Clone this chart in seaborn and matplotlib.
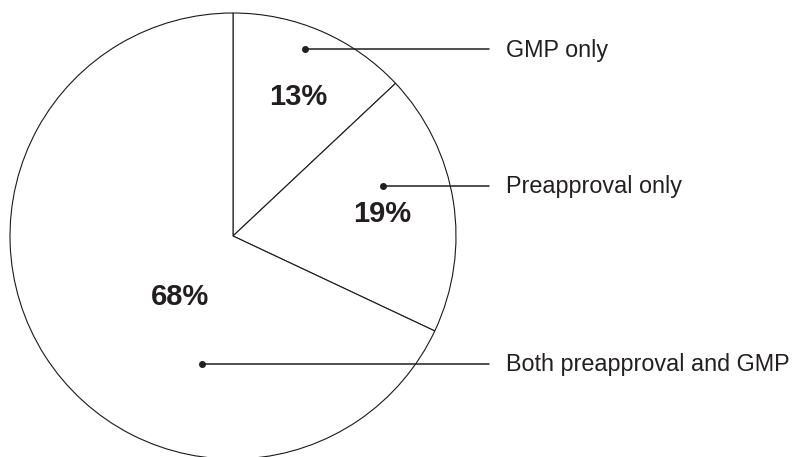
import matplotlib
matplotlib.use("Agg")
import matplotlib.pyplot as plt
import seaborn as sns

sns.set_style("white")
plt.rcParams['font.family'] = ['Liberation Sans', 'DejaVu Sans']

# data
categories = ['GMP only', 'Preapproval only', 'Both preapproval and GMP']
shares = [13, 19, 68]

# where the percent labels, dots and legend texts sit (pixel coords, y from top)
pct_pos = [(298, 97), (382, 214), (180, 297)]
dot_pos = [(305, 49), (383, 186), (202, 364)]
line_end_x = 489
text_x = 506

W, H = 797, 457
fig = plt.figure(figsize=(W / 100, H / 100), dpi=100)
ax = fig.add_axes([0, 0, 1, 1])
ax.set_xlim(0, W)
ax.set_ylim(0, H)

cx, cy, r = 233, H - 236, 223
ax.pie(shares, startangle=90, counterclock=False, radius=r, center=(cx, cy),
       colors=['white'] * len(shares),
       wedgeprops={'edgecolor': '#1a1a1a', 'linewidth': 0.8})
ax.set_xlim(0, W)
ax.set_ylim(0, H)
ax.set_aspect('equal')
ax.axis('off')

for (px, py), v in zip(pct_pos, shares):
    ax.text(px, H - py, f"{v}%", ha='center', va='center',
            fontsize=21, fontweight='bold', color='#231f20')

for (dx, dy), lab in zip(dot_pos, categories):
    ax.plot([dx, line_end_x], [H - dy, H - dy], color='#231f20', lw=1.1)
    ax.plot(dx, H - dy, 'o', color='#231f20', ms=4)
    ax.text(text_x, H - dy - 1, lab, ha='left', va='center',
            fontsize=16.8, color='#231f20')

fig.savefig('out.png', dpi=100)
